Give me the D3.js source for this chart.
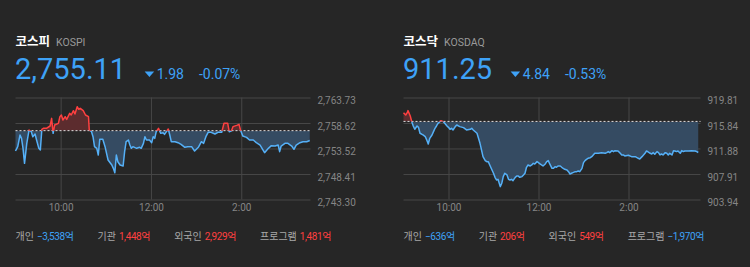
<!DOCTYPE html>
<html>
<head>
<meta charset="utf-8">
<script src="https://cdn.jsdelivr.net/npm/d3@7"></script>
<style>
  body { margin: 0; background: #262626; }
  svg { display: block; font-family: Roboto, "Noto Sans CJK KR", sans-serif; }
</style>
</head>
<body>
<svg width="750" height="267"></svg>
<script>
// minutes after 9:00 and index value
const kospiMinutes = [0, 3, 6, 8, 10, 12, 15, 18, 21, 23, 26, 28, 31, 33, 35, 37, 41, 46, 48, 50,
  52, 57, 59, 61, 63, 66, 68, 72, 74, 77, 79, 82, 84, 86, 90, 93, 97, 98, 101, 103,
  105, 108, 110, 112, 116, 119, 121, 123, 128, 130, 132, 134, 136, 139, 143, 145, 147, 150, 152, 154,
  156, 161, 165, 167, 170, 172, 174, 178, 181, 183, 185, 187, 190, 193, 196, 198, 203, 205, 207, 212,
  216, 220, 225, 229, 234, 238, 243, 247, 250, 253, 256, 260, 265, 269, 274, 277, 282, 284, 287, 289,
  294, 297, 299, 302, 307, 311, 316, 320, 325, 329, 331, 336, 340, 345, 349, 351, 353, 358, 362, 367,
  370, 373, 378, 382, 387, 391];
const kospiValues = [2753.01, 2753.88, 2756.22, 2755.55, 2753.55, 2750.54, 2754.55, 2757.22, 2756.88, 2755.88,
  2756.42, 2755.21, 2753.55, 2753.21, 2757.35, 2757.55, 2757.55, 2758.02, 2759.55, 2756.55,
  2758.22, 2758.55, 2759.89, 2760.22, 2759.22, 2759.89, 2759.35, 2760.56, 2760.22, 2761.09,
  2760.42, 2761.89, 2761.36, 2761.56, 2761.09, 2760.22, 2759.89, 2757.22, 2756.88, 2755.88,
  2753.88, 2753.55, 2752.21, 2755.35, 2755.35, 2753.88, 2752.54, 2751.21, 2750.21, 2749.54,
  2748.67, 2752.21, 2750.87, 2750.21, 2750.01, 2752.88, 2754.88, 2755.21, 2754.21, 2753.55,
  2753.88, 2753.55, 2753.75, 2753.55, 2754.55, 2755.88, 2755.21, 2755.21, 2754.68, 2755.88,
  2755.55, 2756.88, 2757.55, 2756.55, 2756.68, 2756.35, 2757.42, 2756.22, 2754.88, 2754.88,
  2754.68, 2754.35, 2753.75, 2753.88, 2753.88, 2753.01, 2753.75, 2754.88, 2754.55, 2755.88,
  2756.75, 2756.75, 2756.42, 2756.75, 2756.75, 2758.55, 2758.55, 2756.88, 2757.08, 2757.89,
  2758.15, 2758.35, 2757.22, 2756.02, 2755.75, 2755.21, 2755.21, 2754.68, 2754.21, 2753.21,
  2752.68, 2753.55, 2754.08, 2754.01, 2754.21, 2752.88, 2754.01, 2754.55, 2754.55, 2754.01,
  2753.35, 2754.21, 2754.68, 2754.88, 2754.88, 2755.11];

const kosdaqMinutes = [0, 3, 5, 6, 9, 11, 13, 15, 18, 20, 22, 24, 26, 29, 31, 33, 35, 38, 40, 42,
  44, 46, 50, 53, 55, 58, 60, 62, 64, 66, 69, 71, 75, 80, 84, 89, 91, 93, 98, 100,
  102, 104, 106, 109, 111, 113, 115, 118, 120, 122, 124, 126, 129, 131, 133, 135, 138, 140, 142, 144,
  146, 149, 151, 153, 155, 158, 160, 162, 164, 166, 169, 171, 173, 175, 178, 180, 182, 184, 186, 189,
  191, 193, 195, 198, 200, 202, 204, 206, 209, 211, 213, 215, 218, 220, 222, 224, 226, 229, 231, 233,
  235, 238, 240, 242, 244, 246, 249, 251, 253, 255, 258, 260, 264, 269, 271, 273, 275, 278, 280, 282,
  286, 289, 291, 293, 295, 300, 304, 309, 313, 315, 318, 322, 324, 329, 331, 333, 335, 338, 340, 342,
  344, 346, 349, 351, 353, 355, 358, 360, 362, 364, 366, 369, 371, 373, 375, 380, 384, 389, 391, 393];
const kosdaqValues = [917.45, 917.09, 917.45, 917.77, 916.94, 916.05, 915.38, 914.86, 915.38, 915.17,
  914.24, 914.13, 913.98, 913.72, 913.20, 912.58, 913.46, 913.98, 914.50, 915.02,
  915.38, 915.79, 916.21, 916.05, 915.79, 915.38, 915.17, 914.86, 915.02, 914.76,
  915.28, 915.53, 915.28, 915.12, 914.76, 914.86, 915.02, 914.76, 914.24, 913.46,
  912.68, 911.65, 910.61, 909.99, 909.83, 909.83, 909.31, 908.53, 908.02, 907.39,
  906.98, 907.08, 905.94, 906.46, 907.50, 908.02, 907.76, 907.08, 906.98, 907.08,
  906.87, 907.39, 907.60, 907.60, 907.39, 907.50, 907.76, 908.02, 908.95, 909.31,
  909.16, 909.31, 909.57, 909.47, 909.83, 909.67, 909.47, 909.31, 909.16, 909.47,
  909.83, 909.99, 909.47, 908.79, 908.79, 909.05, 908.95, 909.16, 909.16, 908.95,
  908.79, 908.64, 908.53, 908.27, 907.91, 908.02, 908.12, 908.27, 908.27, 908.38,
  908.27, 908.79, 909.67, 909.99, 910.19, 910.35, 910.45, 910.61, 910.87, 911.13,
  911.13, 911.13, 911.23, 911.13, 911.23, 911.39, 911.23, 911.54, 911.39, 911.54,
  911.49, 911.13, 910.87, 910.87, 910.71, 910.82, 910.61, 910.61, 910.35, 910.25,
  910.61, 911.13, 911.49, 911.13, 911.02, 911.23, 910.97, 911.39, 911.23, 910.87,
  911.02, 910.87, 911.23, 911.13, 910.87, 911.13, 910.87, 911.54, 911.49, 911.39,
  911.49, 911.13, 911.54, 911.39, 911.49, 911.49, 911.54, 911.49, 911.39, 911.25];

const kospiTicks = [2763.73, 2758.62, 2753.52, 2748.41, 2743.30];
const kosdaqTicks = [919.81, 915.84, 911.88, 907.91, 903.94];
const timeTicks = [60, 180, 300];
const timeLabels = ["10:00", "12:00", "2:00"];

const flowLabels = ["개인", "기관", "외국인", "프로그램"];
const kospiFlows = [-3538, 1448, 2929, 1481];
const kosdaqFlows = [-636, 206, 549, -1970];

const BLUE = "#3ea2f7", LINE_BLUE = "#55b0f7", RED = "#ff4040";

var svg = d3.select("svg");

function drawPanel(p) {
    var g = svg.append("g");
    var top = 97.5, bottom = 199.5;

    var x = d3.scaleLinear().domain([0, p.endMinute]).range([p.x0, p.x1]);
    var y = d3.scaleLinear().domain([p.ticks[4], p.ticks[0]]).range([bottom, top]);
    var baseY = y(p.prevClose);

    // header
    var title = g.append("text").attr("x", p.x0).attr("y", 46)
        .attr("font-family", "'Noto Sans CJK KR'").attr("font-weight", "bold")
        .attr("font-size", 12.5).attr("fill", "#fff").text(p.name);
    g.append("text").attr("x", p.x0 + title.node().getComputedTextLength() + 6).attr("y", 46)
        .attr("font-size", 10.5).attr("fill", "#9a9a9a").text(p.code);

    var big = g.append("text").attr("x", p.x0 - 0.5).attr("y", 78.5)
        .attr("font-size", 29).attr("fill", BLUE).text(d3.format(",.2f")(p.close));
    var cx = p.x0 + big.node().getComputedTextLength() + 18;
    g.append("path")
        .attr("d", `M${cx},71.5 L${cx + 9.5},71.5 L${cx + 4.75},77 Z`)
        .attr("fill", BLUE);
    var chg = g.append("text").attr("x", cx + 12).attr("y", 78.5)
        .attr("font-size", 14).attr("fill", BLUE).text(p.change.toFixed(2));
    g.append("text").attr("x", cx + 12 + chg.node().getComputedTextLength() + 15).attr("y", 78.5)
        .attr("font-size", 14).attr("fill", BLUE).text(p.pct.toFixed(2) + "%");

    // axes & grid
    var yAxis = d3.axisRight(y).tickValues(p.ticks)
        .tickSize(-(p.x1 - p.x0)).tickPadding(7)
        .tickFormat(d3.format(",.2f"));
    g.append("g").attr("transform", `translate(${p.x1},0)`).call(yAxis)
        .attr("font-family", null).attr("font-size", 10)
        .call(a => a.select(".domain").remove())
        .call(a => a.selectAll("line").attr("stroke", "#474747"))
        .call(a => a.selectAll("text").attr("fill", "#858585").attr("y", 3));

    var xAxis = d3.axisBottom(x).tickValues(timeTicks)
        .tickSize(-(bottom - top)).tickPadding(4)
        .tickFormat((d, i) => timeLabels[i]);
    g.append("g").attr("transform", `translate(0,${bottom})`).call(xAxis)
        .attr("font-family", null).attr("font-size", 10)
        .call(a => a.select(".domain").remove())
        .call(a => a.selectAll("line").attr("stroke", "#474747"))
        .call(a => a.selectAll("text").attr("fill", "#858585"));

    // clip above/below previous close
    var id = p.code;
    var defs = g.append("defs");
    defs.append("clipPath").attr("id", "up" + id).append("rect")
        .attr("x", 0).attr("y", 0).attr("width", 750).attr("height", baseY);
    defs.append("clipPath").attr("id", "dn" + id).append("rect")
        .attr("x", 0).attr("y", baseY).attr("width", 750).attr("height", 267 - baseY);

    var data = p.minutes.map((m, i) => ({ m: m, v: p.values[i] }));

    var area = d3.area().x(d => x(d.m)).y0(baseY).y1(d => y(d.v));
    var line = d3.line().x(d => x(d.m)).y(d => y(d.v));

    g.append("path").datum(data).attr("d", area)
        .attr("fill", "#354b62").attr("clip-path", `url(#dn${id})`);
    g.append("path").datum(data).attr("d", area)
        .attr("fill", "#5c2c2e").attr("clip-path", `url(#up${id})`);

    g.append("line").attr("x1", p.x0).attr("x2", p.x1)
        .attr("y1", baseY).attr("y2", baseY)
        .attr("stroke", "#e0e0e0").attr("stroke-dasharray", "2,2");

    g.append("path").datum(data).attr("d", line)
        .attr("fill", "none").attr("stroke", LINE_BLUE).attr("stroke-width", 1.5)
        .attr("stroke-linejoin", "round").attr("clip-path", `url(#dn${id})`);
    g.append("path").datum(data).attr("d", line)
        .attr("fill", "none").attr("stroke", RED).attr("stroke-width", 1.5)
        .attr("stroke-linejoin", "round").attr("clip-path", `url(#up${id})`);

    // investor flows
    var fx = p.x0;
    flowLabels.forEach((label, i) => {
        var t = g.append("text").attr("x", fx).attr("y", 240)
            .attr("font-size", 10).attr("fill", "#a8a8a8").text(label);
        fx += t.node().getComputedTextLength() + 3;
        var val = p.flows[i];
        var t2 = g.append("text").attr("x", fx).attr("y", 240)
            .attr("font-size", 10).attr("letter-spacing", "-0.4px")
            .attr("fill", val < 0 ? BLUE : RED)
            .text(d3.format(",")(val) + "억");
        fx += t2.node().getComputedTextLength() + 24;
    });
}

drawPanel({
    name: "코스피", code: "KOSPI", x0: 15.5, x1: 310.5, endMinute: 392,
    minutes: kospiMinutes, values: kospiValues, ticks: kospiTicks,
    close: 2755.11, change: 1.98, pct: -0.07, prevClose: 2757.09, flows: kospiFlows
});
drawPanel({
    name: "코스닥", code: "KOSDAQ", x0: 403.5, x1: 700.5, endMinute: 396,
    minutes: kosdaqMinutes, values: kosdaqValues, ticks: kosdaqTicks,
    close: 911.25, change: 4.84, pct: -0.53, prevClose: 916.09, flows: kosdaqFlows
});
</script>
</body>
</html>
